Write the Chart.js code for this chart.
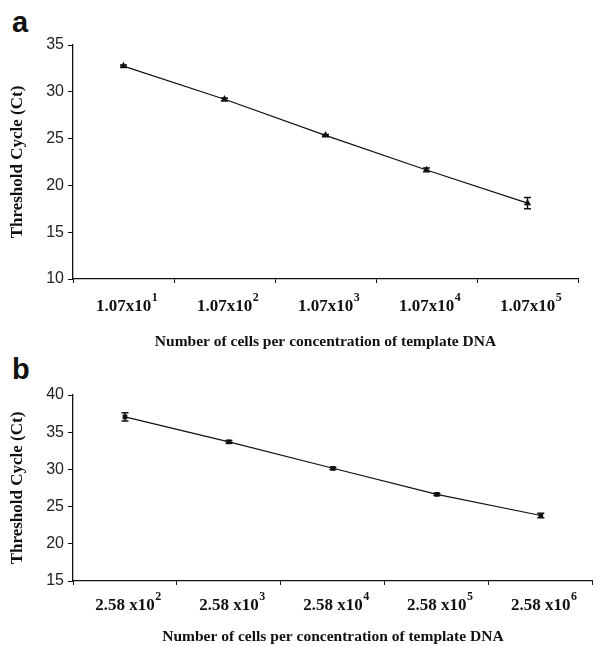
<!DOCTYPE html>
<html>
<head>
<meta charset="utf-8">
<script src="https://cdn.jsdelivr.net/npm/chart.js@4"></script>
<style>
  html, body { margin: 0; padding: 0; background: #fff; }
  body { width: 598px; height: 647px; position: relative; overflow: hidden; }
  canvas { position: absolute; left: 0; }
  .lbl { position: absolute; left: 12px; font: bold 29px "Liberation Sans", Arial, sans-serif; line-height: 29px; color: #111; }
</style>
</head>
<body>
<div class="lbl" style="top:8px">a</div>
<div class="lbl" style="top:355px">b</div>
<canvas id="ca" width="598" height="355" style="top:0"></canvas>
<canvas id="cb" width="598" height="292" style="top:355px"></canvas>
<script>
// ---- Data ----
const mantissaA = '1.07x10';
const exponentsA = ['1', '2', '3', '4', '5'];
const ctA = [32.75, 29.2, 25.35, 21.65, 18.1];
const errA = [0.12, 0.15, 0.1, 0.2, 0.6];

const mantissaB = '2.58 x10';
const exponentsB = ['2', '3', '4', '5', '6'];
const ctB = [37.05, 33.7, 30.15, 26.65, 23.8];
const errB = [0.55, 0.2, 0.15, 0.15, 0.3];

const yTitle = 'Threshold Cycle (Ct)';
const xTitle = 'Number of cells per concentration of template DNA';

const SERIF = '"Liberation Serif", "Times New Roman", serif';
const TICK_SIZE = 17;

// ---- Error bar plugin ----
const errorBars = {
  id: 'errorBars',
  afterDatasetsDraw(chart) {
    const ctx = chart.ctx;
    const ys = chart.scales.y;
    chart.data.datasets.forEach((ds, i) => {
      const meta = chart.getDatasetMeta(i);
      const errs = ds.errors || [];
      meta.data.forEach((pt, j) => {
        const v = ds.data[j], e = errs[j];
        if (e == null) return;
        const x = pt.x;
        const yHi = ys.getPixelForValue(v + e);
        const yLo = ys.getPixelForValue(v - e);
        ctx.save();
        ctx.strokeStyle = '#111';
        ctx.lineWidth = 1.5;
        ctx.beginPath();
        ctx.moveTo(x, yHi); ctx.lineTo(x, yLo);
        ctx.moveTo(x - 3.5, yHi); ctx.lineTo(x + 3.5, yHi);
        ctx.moveTo(x - 3.5, yLo); ctx.lineTo(x + 3.5, yLo);
        ctx.stroke();
        ctx.restore();
      });
    });
  }
};

// ---- Superscript exponents on x tick labels ----
const superscripts = {
  id: 'superscripts',
  afterDraw(chart) {
    const xs = chart.scales.x;
    const ctx = chart.ctx;
    const exps = chart.options.plugins.superscripts.exponents;
    const opt = xs.options;
    const lineH = TICK_SIZE * 1.2;
    const cy = xs.top + opt.grid.tickLength + opt.ticks.padding + lineH / 2;
    ctx.save();
    xs.ticks.forEach((t, i) => {
      const base = xs.getLabelForValue(t.value);
      ctx.font = 'bold ' + TICK_SIZE + 'px ' + SERIF;
      const w = ctx.measureText(base).width;
      const x = xs.getPixelForTick(i) + w / 2 + 0.5;
      ctx.font = 'bold 12px ' + SERIF;
      ctx.fillStyle = '#111';
      ctx.textAlign = 'left';
      ctx.textBaseline = 'middle';
      ctx.fillText(exps[i], x, cy - 8);
    });
    ctx.restore();
  }
};

function makeChart(id, mantissa, exps, vals, errs, yMin, yMax, cfg) {
  const cats = exps.map(() => mantissa);
  return new Chart(document.getElementById(id), {
    type: 'line',
    data: {
      labels: cats,
      datasets: [{
        data: vals,
        errors: errs,
        borderColor: '#111',
        backgroundColor: '#111',
        borderWidth: 1.2,
        pointStyle: cfg.pointStyle,
        pointRadius: cfg.pointRadius,
        tension: 0,
        fill: false
      }]
    },
    options: {
      responsive: false,
      animation: false,
      events: [],
      layout: { padding: { top: cfg.top, right: cfg.right, left: 0, bottom: 0 } },
      plugins: { legend: { display: false }, tooltip: { enabled: false }, superscripts: { exponents: exps } },
      scales: {
        x: {
          type: 'category',
          offset: true,
          afterFit(s) { s.height = cfg.xHeight; },
          grid: { offset: true, drawOnChartArea: false, drawTicks: true, tickLength: 4, color: '#111' },
          border: { display: true, color: '#111', width: 1.3 },
          ticks: {
            padding: cfg.xTickPad,
            color: '#111',
            maxRotation: 0,
            autoSkip: false,
            font: { family: SERIF, size: TICK_SIZE, weight: 'bold' }
          },
          title: {
            display: true,
            text: xTitle,
            color: '#111',
            padding: { top: 0, bottom: cfg.xTitlePad },
            font: { family: SERIF, size: 15.5, weight: 'bold' }
          }
        },
        y: {
          min: yMin, max: yMax,
          afterFit(s) { s.width = 73; },
          grid: { drawOnChartArea: false, drawTicks: true, tickLength: 5, color: '#111' },
          border: { display: true, color: '#111', width: 1.3 },
          ticks: {
            stepSize: 5,
            padding: 4,
            color: '#222',
            font: { family: '"Liberation Sans", Arial, sans-serif', size: 16 }
          },
          title: {
            display: true,
            text: yTitle,
            color: '#111',
            padding: { top: 7, bottom: 0 },
            font: { family: SERIF, size: 17, weight: 'bold' }
          }
        }
      }
    },
    plugins: [errorBars, superscripts]
  });
}

makeChart('ca', mantissaA, exponentsA, ctA, errA, 10, 35,
  { top: 45, right: 20, xHeight: 76, xTickPad: 13, xTitlePad: 4, pointStyle: 'triangle', pointRadius: 3 });
makeChart('cb', mantissaB, exponentsB, ctB, errB, 15, 40,
  { top: 40, right: 1, xHeight: 66, xTickPad: 10, xTitlePad: 1, pointStyle: 'rect', pointRadius: 2.5 });
</script>
</body>
</html>
